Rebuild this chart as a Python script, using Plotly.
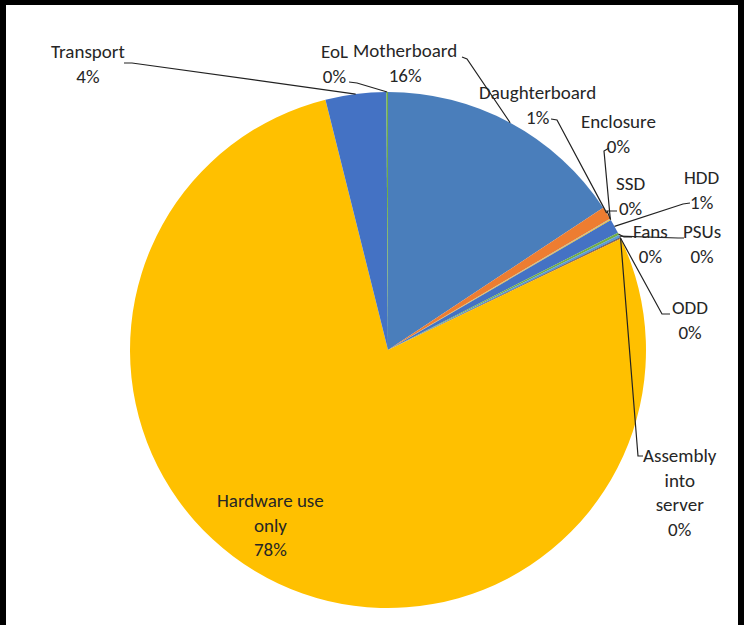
import math
import plotly.graph_objects as go

# ---- data ----
categories = ["Motherboard", "Daughterboard", "Enclosure", "SSD", "HDD", "Fans",
              "PSUs", "ODD", "Assembly into server", "Hardware use only",
              "Transport", "EoL"]
values = [15.7, 0.8, 0.05, 0.05, 0.9, 0.15, 0.15, 0.05, 0.05, 78.2, 3.8, 0.1]
colors = ["#4A7EBB", "#ED7D31", "#A5A5A5", "#FFC000", "#4472C4", "#70AD47",
          "#5B9BD5", "#264478", "#9E480E", "#FFC000", "#4472C4", "#70AD47"]
label_lines = {
    "Assembly into server": ["Assembly", "into", "server"],
    "Hardware use only": ["Hardware use", "only"],
}

# ---- layout constants (pixels in the 748x625 page) ----
OX, OY = 6, 5            # white area starts here (black frame outside)
FW, FH = 732, 620        # figure size
CX, CY, R = 388, 350, 258

def px(x):
    return (x - OX) / FW

def py(y):
    return 1 - (y - OY) / FH

# label centre positions and leader-line bend points (page pixels)
label_pos = {
    "Motherboard": (405, 63),
    "Daughterboard": (537, 105),
    "Enclosure": (618, 134),
    "SSD": (630, 196),
    "HDD": (702, 190),
    "Fans": (650, 244),
    "PSUs": (702, 244),
    "ODD": (690, 320),
    "Assembly into server": (680, 492),
    "Hardware use only": (270, 525),
    "Transport": (88, 64),
    "EoL": (334, 64),
}
leader_pts = {
    "Motherboard": [(467, 59), (462, 57)],
    "Daughterboard": [(557, 120), (551, 119)],
    "Enclosure": [(604, 151), (609, 148)],
    "SSD": [(607, 211), (617, 211)],
    "HDD": [(683, 204), (690, 203)],
    "Fans": [(624, 237), (632, 237)],
    "PSUs": [(678, 238), (684, 238)],
    "ODD": [(662, 314), (670, 314)],
    "Assembly into server": [(638, 456), (643, 456)],
    "Transport": [(132, 63), (124, 63)],
    "EoL": [(357, 83), (349, 82)],
}

total = sum(values)
fig = go.Figure(go.Pie(
    labels=categories, values=values, sort=False, direction="clockwise",
    rotation=0, marker=dict(colors=colors, line=dict(width=0)),
    textinfo="none", hoverinfo="label+percent", showlegend=False,
    domain=dict(x=[px(CX - R), px(CX + R)], y=[py(CY + R), py(CY - R)]),
))

font = dict(family="Carlito, Lato, sans-serif", size=19, color="#262626")
shapes = []
annotations = []
cum = 0.0
for cat, v in zip(categories, values):
    mid = (cum + v / 2) / total * 2 * math.pi
    cum += v
    pct = f"{round(v / total * 100)}%"
    lines = label_lines.get(cat, [cat])
    text = "<br>".join(lines + [pct])
    lx, ly = label_pos[cat]
    annotations.append(dict(x=px(lx), y=py(ly), xref="paper", yref="paper",
                            text=text, showarrow=False, font=font,
                            xanchor="center", yanchor="middle", align="center"))
    if cat in leader_pts:
        ex = CX + R * math.sin(mid)
        ey = CY - R * math.cos(mid)
        pts = [(ex, ey)] + leader_pts[cat]
        path = "M " + " L ".join(f"{px(x):.5f},{py(y):.5f}" for x, y in pts)
        shapes.append(dict(type="path", xref="paper", yref="paper", path=path,
                           line=dict(color="#222222", width=1.2), layer="above"))

fig.update_layout(width=FW, height=FH, margin=dict(l=0, r=0, t=0, b=0),
                  paper_bgcolor="white", plot_bgcolor="white",
                  shapes=shapes, annotations=annotations)

# black screenshot frame around the white chart area
frame_js = (
    "document.body.style.margin='0px';"
    "document.body.style.overflow='hidden';"
    "document.documentElement.style.background="
    "'linear-gradient(to right, #000 744px, #fff 744px)';"
    "var g=document.querySelector('.plotly-graph-div');"
    "g.style.position='absolute';g.style.left='6px';g.style.top='5px';"
)
fig.write_html("out.html", config={"displayModeBar": False},
               post_script=frame_js)
